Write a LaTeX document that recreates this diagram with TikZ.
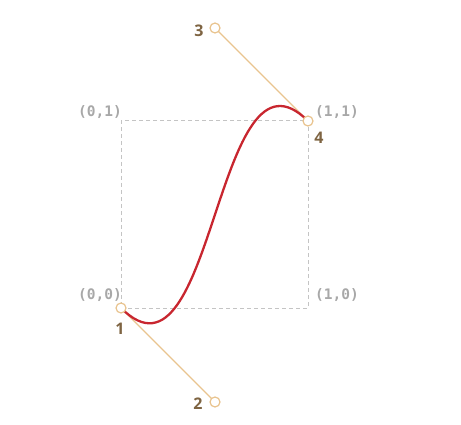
\documentclass[tikz,border=0pt]{standalone}
\usepackage{fontspec}
\newfontfamily\monob{DejaVu Sans Mono}
\newfontfamily\numf{Open Sans}
\definecolor{curvered}{HTML}{C8262F}
\definecolor{ctrl}{HTML}{E9C48F}
\definecolor{gridgray}{HTML}{C4C4C4}
\definecolor{labgray}{HTML}{A8A8A8}
\definecolor{numbrown}{HTML}{7E6442}
\begin{document}
\begin{tikzpicture}[x=1pt,y=-1pt,
  coordlab/.style={text=labgray,font=\monob\bfseries\fontsize{14.5}{16}\selectfont,inner sep=0pt},
  numlab/.style={text=numbrown,font=\numf\bfseries\fontsize{16}{18}\selectfont,inner sep=0pt},
  ptcirc/.style={circle,draw=ctrl,fill=white,line width=1.2pt,minimum size=10pt,inner sep=0pt},
  ctrlline/.style={draw=ctrl,line width=1.2pt},
  gridline/.style={draw=gridgray,line width=1pt,dash pattern=on 4pt off 3pt}]
\useasboundingbox (0,0) rectangle (461,425);
\coordinate (c00) at (121,308);
\coordinate (c10) at (308,308);
\coordinate (c01) at (121,121);
\coordinate (c11) at (308,121);
\draw[gridline] (c00) -- (c10) -- (c11) -- (c01) -- cycle;
\coordinate (q2) at (215,402);
\coordinate (q3) at (215,28);
\draw[ctrlline] (c00) -- (q2);
\draw[ctrlline] (c11) -- (q3);
\draw[curvered,line width=2.3pt] (c00) .. controls (q2) and (q3) .. (c11);
\node[ptcirc] (p1) at (c00) {};
\node[ptcirc] (p2) at (q2) {};
\node[ptcirc] (p3) at (q3) {};
\node[ptcirc] (p4) at (c11) {};
\node[coordlab,anchor=east] (l01) at (122,112) {(0,1)};
\node[coordlab,anchor=west] (l11) at (315,112) {(1,1)};
\node[coordlab,anchor=east] (l00) at (122,295) {(0,0)};
\node[coordlab,anchor=west] (l10) at (315,295) {(1,0)};
\node[numlab] (n1) at (120,329) {1};
\node[numlab] (n2) at (198,404) {2};
\node[numlab] (n3) at (199,31) {3};
\node[numlab] (n4) at (319,138) {4};
\end{tikzpicture}
\end{document}
